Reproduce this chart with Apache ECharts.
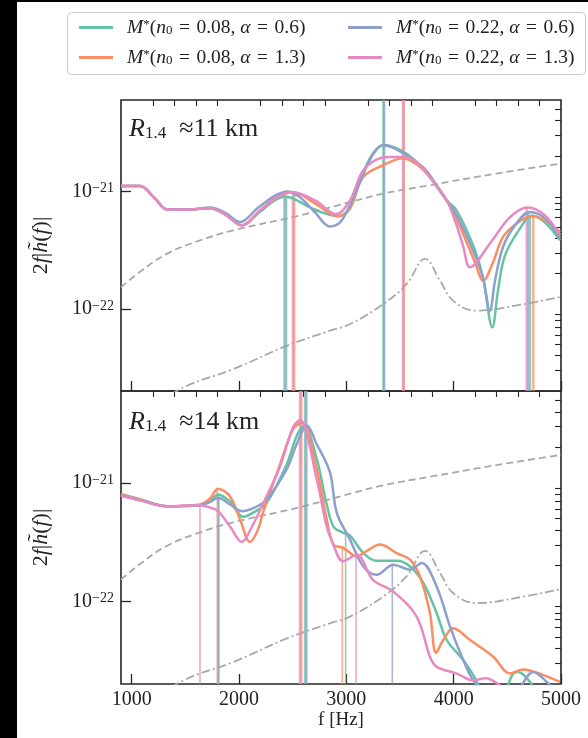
<!DOCTYPE html>
<html><head><meta charset="utf-8">
<script src="https://cdn.jsdelivr.net/npm/echarts@6/dist/echarts.min.js"></script>
<style>html,body{margin:0;padding:0;background:#fff}#c{width:588px;height:738px}</style>
</head><body><div id="c"></div>
<script>
// ---------- data (frequency [Hz], 2f|h(f)|) ----------
const seriesNames = ['M*(n0=0.08, a=0.6)', 'M*(n0=0.08, a=1.3)', 'M*(n0=0.22, a=0.6)', 'M*(n0=0.22, a=1.3)'];
const legendParams = [['0.08', '0.6'], ['0.08', '1.3'], ['0.22', '0.6'], ['0.22', '1.3']];
const colors = ['#66c2a5', '#fc8d62', '#8da0cb', '#e78ac3'];

const xMajorTicks = [1000, 2000, 3000, 4000, 5000];
const xMinorTicks = [1200,1400,1600,1800,2200,2400,2600,2800,3200,3400,3600,3800,4200,4400,4600,4800];
const yMajorTicks = [1e-22, 1e-21];
const yMinorTicks = [3e-23,4e-23,5e-23,6e-23,7e-23,8e-23,9e-23,2e-22,3e-22,4e-22,5e-22,6e-22,7e-22,8e-22,9e-22,2e-21,3e-21,4e-21,5e-21];
const X_MIN = 900, X_MAX = 5000, Y_MIN = 2e-23, Y_MAX = 6e-21;

// R1.4 ~ 11 km panel
const topTeal = [[900,1.11e-21],[1077,1.11e-21],[1217,8.7e-22],[1329,7.03e-22],[1543,7.03e-22],[1729,7.18e-22],[1869,6.38e-22],[2025,5.14e-22],[2195,6.7e-22],[2335,8.4e-22],[2428,9.07e-22],[2661,7.32e-22],[2801,6.5e-22],[2922,6.14e-22],[3034,7.18e-22],[3127,1.24e-21],[3239,2.04e-21],[3345,2.48e-21],[3503,2.25e-21],[3640,1.84e-21],[3779,1.32e-21],[3935,8.39e-22],[4012,7.18e-22],[4090,5.35e-22],[4199,3.14e-22],[4273,1.85e-22],[4360,6.96e-23],[4413,1.43e-22],[4478,2.85e-22],[4618,4.84e-22],[4727,6.25e-22],[4851,5.44e-22],[4991,3.83e-22]];
const topOrange = [[900,1.11e-21],[1077,1.11e-21],[1217,8.7e-22],[1329,7.03e-22],[1543,7.03e-22],[1729,7.18e-22],[1869,6.38e-22],[2025,5.14e-22],[2195,6.87e-22],[2335,8.73e-22],[2503,9.83e-22],[2708,7.92e-22],[2922,6.14e-22],[3034,7.18e-22],[3155,1.32e-21],[3341,1.67e-21],[3528,1.92e-21],[3667,1.67e-21],[3779,1.32e-21],[3935,8.39e-22],[4012,6.25e-22],[4087,4.39e-22],[4199,2.48e-22],[4276,1.74e-22],[4366,2.48e-22],[4459,4.08e-22],[4599,5.44e-22],[4727,6.14e-22],[4851,5.66e-22],[4991,4.51e-22]];
const topBlue = [[900,1.11e-21],[1077,1.11e-21],[1217,8.7e-22],[1329,7.03e-22],[1543,7.03e-22],[1729,7.3e-22],[1869,6.6e-22],[2010,5.5e-22],[2180,7.3e-22],[2335,9.2e-22],[2456,1.0e-21],[2568,8.9e-22],[2708,6.63e-22],[2847,5.03e-22],[2940,5.44e-22],[3034,7.63e-22],[3127,1.2e-21],[3239,2.0e-21],[3345,2.48e-21],[3528,2.12e-21],[3714,1.61e-21],[3779,1.37e-21],[3935,8.39e-22],[4012,6.63e-22],[4090,4.84e-22],[4199,2.85e-22],[4273,1.85e-22],[4338,9.66e-23],[4385,1.74e-22],[4459,3.35e-22],[4571,5.14e-22],[4711,6.67e-22],[4851,5.89e-22],[4991,3.98e-22]];
const topPink = [[900,1.11e-21],[1077,1.11e-21],[1217,8.7e-22],[1329,7.03e-22],[1543,7.03e-22],[1729,7.18e-22],[1869,6.38e-22],[2025,5.14e-22],[2195,6.87e-22],[2335,8.73e-22],[2490,9.9e-22],[2708,8.39e-22],[2903,6.38e-22],[3034,8.39e-22],[3146,1.46e-21],[3267,1.84e-21],[3407,1.96e-21],[3546,1.96e-21],[3686,1.67e-21],[3779,1.32e-21],[3935,8.39e-22],[4012,5.66e-22],[4087,3.46e-22],[4152,2.26e-22],[4338,3.6e-22],[4525,6.05e-22],[4692,7.31e-22],[4851,6.25e-22],[4991,4.22e-22]];

// R1.4 ~ 14 km panel
const botTeal = [[900,8.0e-22],[1077,7.26e-22],[1326,6.37e-22],[1636,6.5e-22],[1729,7.0e-22],[1804,8.02e-22],[1916,6.98e-22],[2040,5.18e-22],[2149,5.74e-22],[2258,6.8e-22],[2444,1.44e-21],[2537,2.5e-21],[2605,3.05e-21],[2724,1.6e-21],[2817,6.59e-22],[2880,4.29e-22],[2971,3.79e-22],[3034,3.6e-22],[3158,2.56e-22],[3282,2.2e-22],[3469,2.2e-22],[3593,1.97e-22],[3717,1.43e-22],[3842,7.93e-23],[3935,4.71e-23],[4090,3.18e-23],[4183,2.38e-23],[4273,1.75e-23],[4430,1.55e-23],[4555,2.45e-23],[4602,2.53e-23],[4711,2.08e-23],[4800,1.6e-23],[4991,1.35e-23]];
const botOrange = [[900,8.1e-22],[1077,7.3e-22],[1326,6.37e-22],[1636,6.6e-22],[1729,7.4e-22],[1804,8.96e-22],[1916,7.7e-22],[2009,4.92e-22],[2102,3.18e-22],[2177,4.05e-22],[2223,5.63e-22],[2382,1.44e-21],[2503,2.85e-21],[2584,3.25e-21],[2724,1.31e-21],[2817,4.92e-22],[2880,3.02e-22],[2969,2.84e-22],[3096,2.4e-22],[3200,2.7e-22],[3313,3.02e-22],[3469,2.56e-22],[3593,2.25e-22],[3686,1.62e-22],[3779,7.93e-23],[3835,3.67e-23],[3903,4.71e-23],[3996,5.92e-23],[4152,4.71e-23],[4369,3.4e-23],[4525,2.45e-23],[4649,2.65e-23],[4835,2.38e-23],[4991,2.08e-23]];
const botBlue = [[900,7.9e-22],[1077,7.2e-22],[1326,6.37e-22],[1636,6.5e-22],[1729,6.9e-22],[1804,7.51e-22],[1916,6.59e-22],[2025,5.78e-22],[2149,6.22e-22],[2258,7.26e-22],[2444,1.31e-21],[2537,2.13e-21],[2630,3.05e-21],[2724,2.13e-21],[2847,1.23e-21],[2910,5.63e-22],[3034,3.32e-22],[3158,1.97e-22],[3282,1.68e-22],[3437,2.04e-22],[3593,1.85e-22],[3702,2.11e-22],[3842,1.33e-22],[3966,6.11e-23],[4090,3.18e-23],[4183,2.15e-23],[4338,1.55e-23],[4500,1.6e-23],[4600,1.8e-23],[4742,2.53e-23],[4867,2.08e-23],[4991,1.6e-23]];
const botPink = [[900,7.8e-22],[1077,7.1e-22],[1326,6.37e-22],[1636,6.5e-22],[1729,6.2e-22],[1804,5.78e-22],[1916,4.29e-22],[2025,3.18e-22],[2121,4.29e-22],[2242,7.26e-22],[2382,1.38e-21],[2503,2.97e-21],[2568,3.42e-21],[2724,1.07e-21],[2817,4.29e-22],[2869,3.18e-22],[2969,2.18e-22],[3096,2.48e-22],[3248,1.52e-22],[3437,1.21e-22],[3655,7.43e-23],[3779,3.4e-23],[3842,2.79e-23],[4028,2.45e-23],[4183,2.15e-23],[4300,2.24e-23],[4450,1.9e-23],[4600,1.6e-23],[4991,1.3e-23]];

// detector curves (same in both panels)
const sensDashed = [[900,1.53e-22],[1093,2.12e-22],[1326,2.94e-22],[1636,3.83e-22],[1946,4.66e-22],[2568,6.25e-22],[3034,8.12e-22],[3344,9.58e-22],[3779,1.13e-21],[4401,1.42e-21],[5000,1.73e-21]];
const sensDashDot = [[1100,1.3e-23],[1480,2.14e-23],[1946,3.07e-23],[2444,4.85e-23],[2847,6.52e-23],[3034,7.43e-23],[3344,1.1e-22],[3562,1.63e-22],[3733,2.67e-22],[3872,1.74e-22],[3996,1.17e-22],[4214,9.65e-23],[4587,1.07e-22],[5000,1.27e-22]];

// peak frequency markers: [frequency, height reached]
const peaksTopTeal = [[2439,9.07e-22],[3345,6e-21],[4711,6.25e-22]];
const peaksTopOrange = [[2514,9.8e-22],[3535,6e-21],[4742,6.14e-22]];
const peaksTopBlue = [[2423,1.0e-21],[3352,6e-21],[4695,6.67e-22]];
const peaksTopPink = [[2501,9.9e-22],[3528,6e-21],[4680,7.31e-22]];
const peaksBotTeal = [[1805,8.02e-22],[2615,6e-21],[2993,3.79e-22]];
const peaksBotOrange = [[1797,8.96e-22],[2580,6e-21],[2962,2.84e-22]];
const peaksBotBlue = [[1813,7.51e-22],[2628,6e-21],[3428,2.04e-22]];
const peaksBotPink = [[1636,6.5e-22],[2568,6e-21],[3090,2.48e-22]];

const panelLabels = ['11', '14'];

// ---------- chart ----------
const UNIT = 1e-23; // values plotted in units of 1e-23
const F = '"Liberation Serif", "DejaVu Serif", serif';
const INK = '#262626';
const EN = '\u2002';
const MS = '\u2004';
const sc = arr => arr.map(([f, v]) => [f, v / UNIT]);

const richBase = {
  r: {fontFamily: F, fontSize: 19.5, color: '#222', lineHeight: 19, verticalAlign: 'middle'},
  i: {fontFamily: F, fontSize: 19.5, fontStyle: 'italic', color: '#222', lineHeight: 19, verticalAlign: 'middle'},
  sup: {fontFamily: F, fontSize: 13, color: '#222', lineHeight: 13, padding: [0, 0, 10, 0], verticalAlign: 'top'},
  sub: {fontFamily: F, fontSize: 13, color: '#222', lineHeight: 13, padding: [10, 0, 0, 0], verticalAlign: 'bottom'}
};

function legendLabel(name) {
  const k = seriesNames.indexOf(name);
  const [n0, a] = legendParams[k];
  return '{i|M}{sup|*}{r|(}{i|n}{sub|0}{r|' + MS + '=' + MS + n0 + ', }{i|α}{r|' + MS + '=' + MS + a + ')}';
}

function xAxes(gridIndex, showLabels) {
  const major = {
    type: 'value', gridIndex, min: X_MIN, max: X_MAX,
    axisLine: {show: false}, splitLine: {show: false},
    axisTick: {show: true, inside: true, length: 10, customValues: xMajorTicks, lineStyle: {color: INK, width: 1.3}},
    axisLabel: {show: showLabels, customValues: xMajorTicks, margin: 6, formatter: v => String(v),
      fontFamily: F, fontSize: 20, color: '#222'}
  };
  if (showLabels) {
    major.name = 'f [Hz]';
    major.nameLocation = 'middle';
    major.nameGap = 24;
    major.nameTextStyle = {fontFamily: F, fontSize: 19, color: '#222'};
  }
  const minor = {
    type: 'value', gridIndex, min: X_MIN, max: X_MAX,
    axisLine: {show: false}, splitLine: {show: false}, axisLabel: {show: false},
    axisTick: {show: true, inside: true, length: 6, customValues: xMinorTicks, lineStyle: {color: INK, width: 1.1}}
  };
  return [major, minor];
}

function yAxes(gridIndex) {
  const major = {
    type: 'log', logBase: 10, gridIndex, min: Y_MIN / UNIT, max: Y_MAX / UNIT,
    axisLine: {show: false}, splitLine: {show: false},
    axisTick: {show: true, inside: true, length: 10, customValues: yMajorTicks.map(v => v / UNIT), lineStyle: {color: INK, width: 1.3}},
    axisLabel: {customValues: yMajorTicks.map(v => v / UNIT), margin: 7,
      formatter: v => '{b|10}{s|−' + Math.abs(Math.round(Math.log10(v * UNIT))) + '}',
      rich: {
        b: {fontFamily: F, fontSize: 20, color: '#222', lineHeight: 20, verticalAlign: 'bottom'},
        s: {fontFamily: F, fontSize: 14, color: '#222', lineHeight: 14, padding: [0, 0, 10, 0], verticalAlign: 'top'}
      }},
    name: '{n|2}{i|f}{n||}{i|h̃}{n|(}{i|f}{n|)|}',
    nameLocation: 'middle', nameRotate: 90, nameGap: 69,
    nameTextStyle: {rich: {
      n: {fontFamily: F, fontSize: 22, color: '#222'},
      i: {fontFamily: F, fontSize: 22, fontStyle: 'italic', color: '#222'}
    }}
  };
  const minor = {
    type: 'log', logBase: 10, gridIndex, min: Y_MIN / UNIT, max: Y_MAX / UNIT,
    axisLine: {show: false}, splitLine: {show: false}, axisLabel: {show: false},
    axisTick: {show: true, inside: true, length: 6, customValues: yMinorTicks.map(v => v / UNIT), lineStyle: {color: INK, width: 1.1}}
  };
  return [major, minor];
}

const series = [];
function addPanel(p, curves, peaks) {
  const xi = p * 2, yi = p * 2;
  series.push({type: 'line', name: 'dashed' + p, xAxisIndex: xi, yAxisIndex: yi, data: sc(sensDashed),
    smooth: 0.4, showSymbol: false, clip: true, silent: true, z: 2,
    lineStyle: {color: '#a8a8a8', width: 1.8, type: [7, 4]}});
  series.push({type: 'line', name: 'dashdot' + p, xAxisIndex: xi, yAxisIndex: yi, data: sc(sensDashDot),
    smooth: 0.4, showSymbol: false, clip: true, silent: true, z: 2,
    lineStyle: {color: '#a8a8a8', width: 1.8, type: [9, 3, 2, 3]}});
  peaks.forEach((pk, k) => {
    pk.forEach(([f, top], j) => {
      series.push({type: 'line', name: 'peak' + p + k + j, xAxisIndex: xi, yAxisIndex: yi,
        data: [[f, Y_MIN / UNIT], [f, top / UNIT]], showSymbol: false, clip: true, silent: true, z: 3,
        lineStyle: {color: colors[k], width: (p === 1 && j !== 1) ? 1.6 : 2.4, opacity: 0.75}});
    });
  });
  curves.forEach((c, k) => {
    series.push({type: 'line', name: seriesNames[k], color: colors[k], xAxisIndex: xi, yAxisIndex: yi,
      data: sc(c), smooth: 0.35, showSymbol: false, clip: true, z: 4 + k,
      lineStyle: {color: colors[k], width: 2.5}});
  });
}
addPanel(0, [topTeal, topOrange, topBlue, topPink], [peaksTopTeal, peaksTopOrange, peaksTopBlue, peaksTopPink]);
addPanel(1, [botTeal, botOrange, botBlue, botPink], [peaksBotTeal, peaksBotOrange, peaksBotBlue, peaksBotPink]);

const legendCommon = {
  orient: 'vertical', top: 9, itemWidth: 34, itemHeight: 3, itemGap: 3, icon: 'rect',
  selectedMode: false, formatter: legendLabel,
  textStyle: {fontFamily: F, fontSize: 19.5, color: '#222', padding: [0, 0, 0, 9], rich: richBase}
};

const annotRich = {
  i: {fontFamily: F, fontSize: 26, fontStyle: 'italic', fill: '#222', color: '#222'},
  sub: {fontFamily: F, fontSize: 17, fill: '#222', color: '#222', padding: [10, 0, 0, 0], verticalAlign: 'bottom'},
  r: {fontFamily: F, fontSize: 26, fill: '#222', color: '#222'}
};
const annotText = k => '{i|R}{sub|1.4}{r|' + EN + '≈' + panelLabels[k] + ' km}';

const option = {
  animation: false,
  backgroundColor: '#ffffff',
  grid: [
    {left: 121, top: 100, width: 440, height: 291, show: true, borderColor: INK, borderWidth: 1.6, backgroundColor: 'transparent'},
    {left: 121, top: 391, width: 440, height: 293, show: true, borderColor: INK, borderWidth: 1.6, backgroundColor: 'transparent'}
  ],
  xAxis: [...xAxes(0, false), ...xAxes(1, true)],
  yAxis: [...yAxes(0), ...yAxes(1)],
  legend: [
    Object.assign({}, legendCommon, {left: 74, data: [seriesNames[0], seriesNames[1]]}),
    Object.assign({}, legendCommon, {left: 343, data: [seriesNames[2], seriesNames[3]]})
  ],
  graphic: [
    {type: 'rect', z: -10, shape: {x: 0, y: 0, width: 17, height: 738}, style: {fill: '#000'}},
    {type: 'rect', z: -10, shape: {x: 0, y: 0, width: 588, height: 2}, style: {fill: '#000'}},
    {type: 'rect', z: -5, shape: {x: 67.5, y: 12.5, width: 518, height: 62, r: 4}, style: {fill: '#fff', stroke: '#cccccc', lineWidth: 1}},
    {type: 'text', x: 129, y: 129, z: 50, style: {text: annotText(0), rich: annotRich, verticalAlign: 'middle', fill: '#222'}},
    {type: 'text', x: 129, y: 422, z: 50, style: {text: annotText(1), rich: annotRich, verticalAlign: 'middle', fill: '#222'}}
  ],
  series
};

const chart = echarts.init(document.getElementById('c'), null, {renderer: 'canvas'});
chart.setOption(option);
</script>
</body></html>
